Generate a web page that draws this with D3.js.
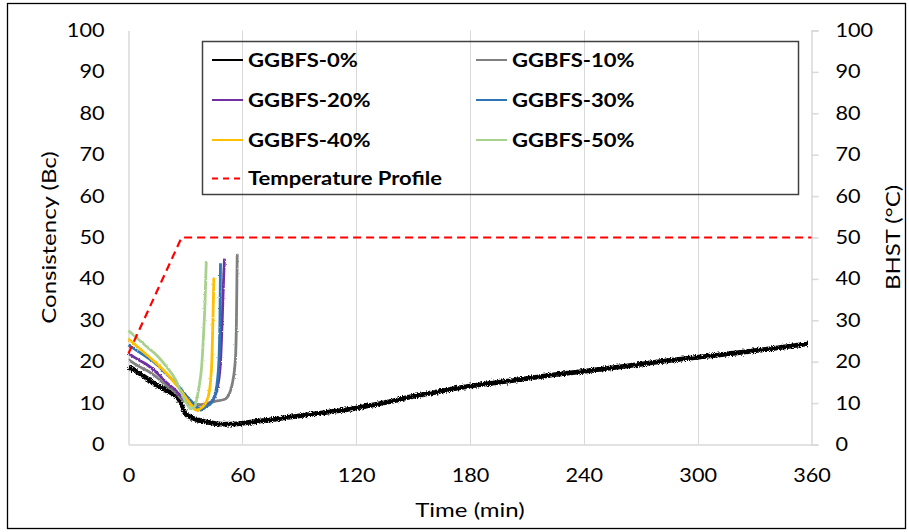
<!DOCTYPE html>
<html>
<head>
<meta charset="utf-8">
<script src="https://cdn.jsdelivr.net/npm/d3@7"></script>
<style>
  body { margin: 0; background: #fff; }
  text { font-family: Lato, "Open Sans", sans-serif; fill: #000; }
</style>
</head>
<body>
<svg id="chart" width="909" height="532"></svg>
<script>
// Axis ticks
const xTicks = [0, 60, 120, 180, 240, 300, 360];
const yTicks = [0, 10, 20, 30, 40, 50, 60, 70, 80, 90, 100];

// Consistency curves (time in min, consistency in Bc)
const time0 = [0, 4.6, 9, 13.3, 18, 22, 26.5, 28.3, 30, 32.8, 36, 39.6, 44, 48.5, 53.8, 57.3, 62.5, 70, 80, 90, 100, 110, 120, 135, 150, 165, 182, 200, 220, 242, 260, 280, 303, 320, 340, 358];
const ggbfs0 = [18.7, 17.5, 16.2, 14.8, 13.6, 12.6, 11.0, 9.4, 7.4, 6.6, 6.0, 5.6, 5.2, 4.9, 4.9, 5.0, 5.3, 5.7, 6.3, 6.9, 7.5, 8.1, 8.8, 10.1, 11.6, 12.9, 14.2, 15.3, 16.6, 17.8, 18.8, 20.0, 21.2, 22.1, 23.2, 24.3];

const time10 = [0, 5, 10, 15, 20, 25, 28, 31, 34, 38, 42, 46, 50, 52, 54.7, 56.4, 56.9, 57.3];
const ggbfs10 = [20.5, 19.0, 17.8, 16.2, 14.2, 12.5, 11.0, 10.2, 9.8, 9.6, 10.0, 10.5, 10.8, 11.4, 14.7, 21.0, 30.0, 46.1];

const time20 = [0, 5, 10, 15, 20, 25, 28, 31, 34, 38, 42, 45, 47, 48.5, 49.4, 50.2, 50.6];
const ggbfs20 = [22.0, 20.5, 19.2, 17.3, 15.0, 13.0, 11.5, 10.2, 9.3, 8.8, 9.6, 11.2, 14.0, 20.0, 30.0, 41.0, 44.9];

const time30 = [0, 5, 10, 15, 20, 25, 28, 31, 34, 38, 41, 43.5, 46, 47, 47.8, 48.2, 48.5];
const ggbfs30 = [24.0, 22.5, 21.0, 19.3, 17.0, 14.8, 13.2, 11.5, 10.0, 8.3, 9.2, 10.0, 12.8, 16.0, 22.0, 30.0, 43.8];

const time40 = [0, 5, 10, 15, 20, 25, 28, 31, 34, 35.5, 38.8, 41, 42.5, 43.3, 44, 44.5, 45];
const ggbfs40 = [25.5, 23.5, 21.5, 19.5, 17.2, 14.5, 12.8, 10.8, 9.0, 8.3, 9.0, 10.3, 12.5, 15.5, 21.0, 30.0, 40.4];

const time50 = [0, 5, 10, 15, 20, 25, 28, 31, 33, 35, 37, 38.5, 39.5, 40.3, 41];
const ggbfs50 = [27.5, 25.5, 23.5, 21.5, 18.8, 15.5, 12.3, 9.6, 8.6, 9.3, 13.5, 18.5, 26.0, 34.0, 44.3];

// Temperature profile (BHST, °C)
const tempTime = [0, 28, 360];
const tempValue = [22, 50, 50];

const seriesNames = ["GGBFS-0%", "GGBFS-10%", "GGBFS-20%", "GGBFS-30%", "GGBFS-40%", "GGBFS-50%"];
const seriesColors = ["#000000", "#808080", "#7030a0", "#2e75b6", "#ffc000", "#a9d18e"];
const seriesTimes = [time0, time10, time20, time30, time40, time50];
const seriesValues = [ggbfs0, ggbfs10, ggbfs20, ggbfs30, ggbfs40, ggbfs50];
const tempName = "Temperature Profile";
const tempColor = "#ff0000";

const svg = d3.select("#chart");
const plot = { left: 128.5, right: 811.5, top: 30.5, bottom: 444.5 };

const x = d3.scaleLinear().domain([0, 360]).range([plot.left, plot.right]);
const y = d3.scaleLinear().domain([0, 100]).range([plot.bottom, plot.top]);
const y2 = d3.scaleLinear().domain([0, 100]).range([plot.bottom, plot.top]);

// rough edges for the noisy rheometer traces
const defs = svg.append("defs");
function roughFilter(id, freq, scale) {
  const f = defs.append("filter").attr("id", id)
    .attr("x", "-5%").attr("y", "-20%").attr("width", "110%").attr("height", "140%");
  f.append("feTurbulence").attr("type", "fractalNoise")
    .attr("baseFrequency", freq).attr("numOctaves", 2).attr("seed", 3).attr("result", "n");
  f.append("feDisplacementMap").attr("in", "SourceGraphic").attr("in2", "n")
    .attr("scale", scale).attr("xChannelSelector", "R").attr("yChannelSelector", "G");
}
roughFilter("roughHeavy", "1.2 0.8", 4.5);
roughFilter("roughLight", "1.0 0.7", 2.5);

// widen glyphs horizontally around their anchor
function stretch(sel, sx) {
  sel.each(function () {
    const t = d3.select(this);
    const xa = +t.attr("x") || 0;
    t.attr("x", xa / sx).attr("transform", `scale(${sx},1)`);
  });
}

// outer frame
svg.append("rect")
  .attr("x", 7.5).attr("y", 3.5).attr("width", 898).attr("height", 525)
  .attr("fill", "none").attr("stroke", "#000").attr("stroke-width", 1.3);

// vertical gridlines
svg.append("g")
  .selectAll("line").data(xTicks.filter(d => d > 0 && d < 360)).join("line")
  .attr("x1", d => Math.round(x(d)) + 0.5).attr("x2", d => Math.round(x(d)) + 0.5)
  .attr("y1", plot.top).attr("y2", plot.bottom)
  .attr("stroke", "#d9d9d9").attr("stroke-width", 1);

const tickFont = "19px";
const tickStretch = 1.14;

// bottom axis
const gx = svg.append("g").attr("transform", `translate(0,${plot.bottom})`)
  .call(d3.axisBottom(x).tickValues(xTicks).tickSize(0).tickPadding(24));
gx.select(".domain").attr("stroke", "#d9d9d9").attr("stroke-width", 1.5);
gx.selectAll("text").style("font-size", tickFont).attr("font-family", "Lato").call(stretch, tickStretch);

// left axis
const gy = svg.append("g").attr("transform", `translate(${plot.left},0)`)
  .call(d3.axisLeft(y).tickValues(yTicks).tickSize(0).tickPadding(24));
gy.select(".domain").attr("stroke", "#d9d9d9").attr("stroke-width", 1.5);
gy.selectAll("text").style("font-size", tickFont).attr("font-family", "Lato").call(stretch, tickStretch);

// right axis
const gy2 = svg.append("g").attr("transform", `translate(${plot.right},0)`)
  .call(d3.axisRight(y2).tickValues(yTicks).tickSize(7).tickSizeOuter(7).tickPadding(17));
gy2.select(".domain").attr("stroke", "#d9d9d9").attr("stroke-width", 1.5);
gy2.selectAll(".tick line").attr("stroke", "#d9d9d9").attr("stroke-width", 1.5);
gy2.selectAll("text").style("font-size", tickFont).attr("font-family", "Lato").call(stretch, tickStretch);

// axis titles
const tx = svg.append("g").attr("transform", `translate(${(plot.left + plot.right) / 2},517)`);
tx.append("text").attr("text-anchor", "middle").style("font-size", "20px")
  .attr("transform", "scale(1.2,1)").text("Time (min)");
svg.append("g").attr("transform", `translate(56,${(plot.top + plot.bottom) / 2}) rotate(-90)`)
  .append("text").attr("text-anchor", "middle").style("font-size", "20px")
  .attr("transform", "scale(1.2,1)").text("Consistency (Bc)");
svg.append("g").attr("transform", `translate(900,${(plot.top + plot.bottom) / 2}) rotate(-90)`)
  .append("text").attr("text-anchor", "middle").style("font-size", "20px")
  .attr("transform", "scale(1.2,1)").text("BHST (°C)");

// consistency curves
const line = d3.line().curve(d3.curveMonotoneX).x(d => x(d[0])).y(d => y(d[1]));
seriesNames.forEach((name, i) => {
  const pts = seriesTimes[i].map((t, k) => [t, seriesValues[i][k]]);
  svg.append("path").datum(pts)
    .attr("d", line)
    .attr("fill", "none")
    .attr("stroke", seriesColors[i])
    .attr("stroke-width", i === 0 ? 4.8 : 2.8)
    .attr("stroke-linejoin", "round")
    .attr("filter", i === 0 ? "url(#roughHeavy)" : "url(#roughLight)");
});

// temperature profile on the secondary axis
const tempLine = d3.line().x(d => x(d[0])).y(d => y2(d[1]));
svg.append("path").datum(tempTime.map((t, k) => [t, tempValue[k]]))
  .attr("d", tempLine).attr("fill", "none")
  .attr("stroke", tempColor).attr("stroke-width", 2.2).attr("stroke-dasharray", "8,5");

// legend
const legend = svg.append("g");
legend.append("rect").attr("x", 202.5).attr("y", 41.5).attr("width", 596).attr("height", 153)
  .attr("fill", "none").attr("stroke", "#404040").attr("stroke-width", 1.5);
const legendItems = seriesNames.map((n, i) => ({ name: n, color: seriesColors[i], dash: null,
  col: i % 2, row: Math.floor(i / 2) }));
legendItems.push({ name: tempName, color: tempColor, dash: "6,5", col: 0, row: 3 });
const colX = [212, 476];
const rowY = [60, 100, 140, 178.5];
legendItems.forEach(d => {
  const lx = colX[d.col], ly = rowY[d.row];
  legend.append("line").attr("x1", lx).attr("x2", lx + 31).attr("y1", ly).attr("y2", ly)
    .attr("stroke", d.color).attr("stroke-width", 2)
    .attr("stroke-dasharray", d.dash);
  legend.append("g").attr("transform", `translate(${lx + 36},${ly})`)
    .append("text").attr("dy", "0.36em").attr("transform", "scale(1.16,1)")
    .style("font-size", "19px").style("font-weight", "bold").text(d.name);
});
</script>
</body>
</html>
